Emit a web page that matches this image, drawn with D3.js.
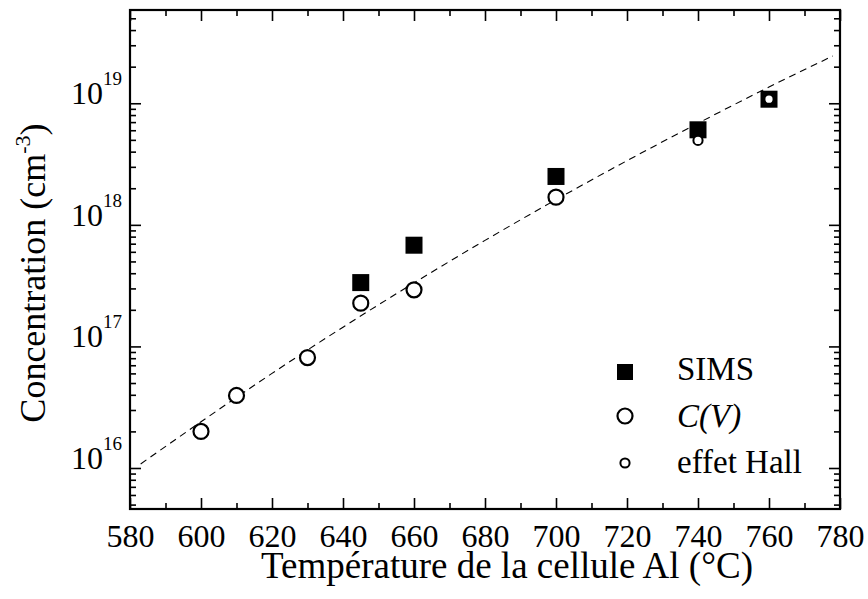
<!DOCTYPE html>
<html><head><meta charset="utf-8">
<script src="https://cdn.jsdelivr.net/npm/d3@7"></script>
<style>
body{margin:0;background:#fff}
svg text{font-family:"Liberation Serif","Times New Roman",serif !important;fill:#000}
</style>
</head><body>
<svg id="chart" width="868" height="599"></svg>
<script>
// Data
const cvTemps   = [600, 610, 630, 645, 660, 700];
const cvValues  = [2.0e16, 3.95e16, 8.1e16, 2.27e17, 2.92e17, 1.69e18];
const simsTemps  = [645, 660, 700, 740, 760];
const simsValues = [3.35e17, 6.8e17, 2.5e18, 6.05e18, 1.08e19];
const hallTemps  = [740, 760];
const hallValues = [4.95e18, 1.08e19];
const fitTemps  = [583, 600, 620, 640, 660, 680, 700, 720, 740, 760, 778];
const fitValues = [1.08e16, 2.4e16, 6.0e16, 1.44e17, 3.33e17, 7.45e17, 1.61e18, 3.37e18, 6.85e18, 1.36e19, 2.45e19];
const xTickValues  = [580, 600, 620, 640, 660, 680, 700, 720, 740, 760, 780];
const xMinorValues = [590, 610, 630, 650, 670, 690, 710, 730, 750, 770];
const yTickExponents = [16, 17, 18, 19];
const legendLabels = ["SIMS", "C(V)", "effet Hall"];
const xTitle = "Température de la cellule Al (°C)";
const yTitle = "Concentration (cm";

const FONT = '"Liberation Serif","Times New Roman",serif';
const svg = d3.select("#chart");
const L = 130, R = 840, T = 10, B = 509;
const x = d3.scaleLinear().domain([580, 780]).range([L, R]);
const y = d3.scaleLog().domain([4.6e15, 5.85e19]).range([B, T]);

const yMajor = yTickExponents.map(e => Math.pow(10, e));
const yMinor = [];
for (let e = 15; e <= 19; e++) for (let k = 2; k <= 9; k++) {
  const v = k * Math.pow(10, e);
  if (v > y.domain()[0] && v < y.domain()[1]) yMinor.push(v);
}

function strip(g){ g.attr("font-family", FONT); g.select(".domain").remove(); g.selectAll("line").attr("stroke","#000").attr("stroke-width",1.6); }

// bottom axis
const gxB = svg.append("g").attr("transform",`translate(0,${B})`)
  .call(d3.axisBottom(x).tickValues(xTickValues).tickSizeInner(-11).tickSizeOuter(0).tickPadding(15).tickFormat(d3.format("d")));
strip(gxB);
gxB.selectAll("text").attr("font-size",32).style("font-family",FONT).attr("fill","#000");
svg.append("g").attr("transform",`translate(0,${B})`)
  .call(d3.axisBottom(x).tickValues(xMinorValues).tickSize(-6).tickFormat("")).call(strip);
// top axis
svg.append("g").attr("transform",`translate(0,${T})`)
  .call(d3.axisTop(x).tickValues(xTickValues).tickSize(-11).tickFormat("")).call(strip);
svg.append("g").attr("transform",`translate(0,${T})`)
  .call(d3.axisTop(x).tickValues(xMinorValues).tickSize(-6).tickFormat("")).call(strip);
// left axis
svg.append("g").attr("transform",`translate(${L},0)`)
  .call(d3.axisLeft(y).tickValues(yMajor).tickSize(-11).tickFormat("")).call(strip);
svg.append("g").attr("transform",`translate(${L},0)`)
  .call(d3.axisLeft(y).tickValues(yMinor).tickSize(-6).tickFormat("")).call(strip);
// right axis
svg.append("g").attr("transform",`translate(${R},0)`)
  .call(d3.axisRight(y).tickValues(yMajor).tickSize(-11).tickFormat("")).call(strip);
svg.append("g").attr("transform",`translate(${R},0)`)
  .call(d3.axisRight(y).tickValues(yMinor).tickSize(-6).tickFormat("")).call(strip);

// y tick labels 10^n
const yl = svg.append("g").selectAll("text").data(yTickExponents).join("text")
  .attr("x", L - 8).attr("y", d => y(Math.pow(10, d)) + 1)
  .attr("text-anchor","end").attr("font-size",32).style("font-family",FONT);
yl.append("tspan").text("10");
yl.append("tspan").attr("font-size",19).attr("dy",-19).text(d => d);

// frame
svg.append("rect").attr("x",L).attr("y",T).attr("width",R-L).attr("height",B-T)
  .attr("fill","none").attr("stroke","#000").attr("stroke-width",2.2);

// fit line
const line = d3.line().x((d,i)=>x(fitTemps[i])).y(d=>y(d)).curve(d3.curveMonotoneX);
svg.append("path").attr("d", line(fitValues)).attr("fill","none")
  .attr("stroke","#000").attr("stroke-width",1.1).attr("stroke-dasharray","7,5");

// SIMS squares
const sq = 17;
svg.append("g").selectAll("rect").data(simsValues).join("rect")
  .attr("x",(d,i)=>x(simsTemps[i])-sq/2).attr("y",d=>y(d)-sq/2)
  .attr("width",sq).attr("height",sq).attr("fill","#000");
// C(V) circles
svg.append("g").selectAll("circle").data(cvValues).join("circle")
  .attr("cx",(d,i)=>x(cvTemps[i])).attr("cy",d=>y(d)).attr("r",7.5)
  .attr("fill","#fff").attr("stroke","#000").attr("stroke-width",2.2);
// Hall circles
svg.append("g").selectAll("circle").data(hallValues).join("circle")
  .attr("cx",(d,i)=>x(hallTemps[i])).attr("cy",d=>y(d)).attr("r",4.6)
  .attr("fill","#fff").attr("stroke","#000").attr("stroke-width",2);

// legend
const lg = svg.append("g");
lg.append("rect").attr("x",625-8).attr("y",372-8).attr("width",16).attr("height",16).attr("fill","#000");
lg.append("circle").attr("cx",625).attr("cy",416).attr("r",7.5).attr("fill","#fff").attr("stroke","#000").attr("stroke-width",2.2);
lg.append("circle").attr("cx",625).attr("cy",463).attr("r",4.6).attr("fill","#fff").attr("stroke","#000").attr("stroke-width",2);
lg.selectAll("text").data(legendLabels).join("text")
  .attr("x",677).attr("y",(d,i)=>[380,427,473][i]).attr("font-size",33)
  .style("font-family",FONT)
  .attr("font-style",(d,i)=>i===1?"italic":"normal").text(d=>d);

// axis titles
svg.append("text").attr("x",507).attr("y",578).attr("text-anchor","middle")
  .attr("font-size",37).style("font-family",FONT).text(xTitle);
const yt = svg.append("text").attr("transform","translate(45,273) rotate(-90)")
  .attr("text-anchor","middle").attr("font-size",36).style("font-family",FONT);
yt.append("tspan").text(yTitle);
yt.append("tspan").attr("font-size",22).attr("dy",-15).text("-3");
yt.append("tspan").attr("dy",15).text(")");
</script>
</body></html>
